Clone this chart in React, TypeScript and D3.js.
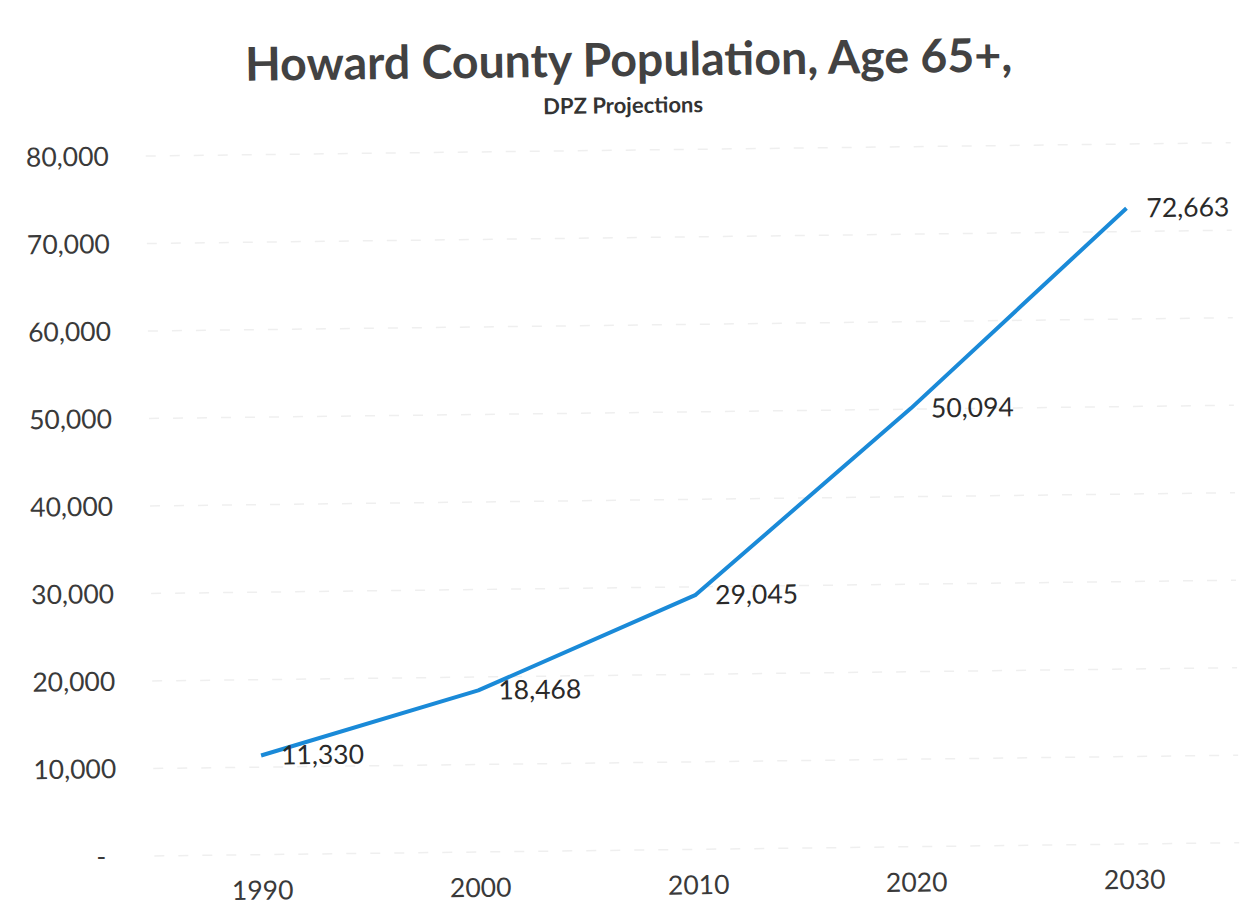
import React from "react";
import * as d3 from "d3";

const years = ["1990", "2000", "2010", "2020", "2030"];
const population = [11330, 18468, 29045, 50094, 72663];
const yTicks = [0, 10000, 20000, 30000, 40000, 50000, 60000, 70000, 80000];
const titleText = "Howard County Population, Age 65+,";
const subtitleText = "DPZ Projections";

const W = 1257;
const H = 920;

export default function App() {
  const x = d3.scalePoint<string>().domain(years).range([258, 1130]);
  const y = d3.scaleLinear().domain([0, 80000]).range([850, 150]);
  const fmt = d3.format(",");
  const line = d3
    .line<number>()
    .x((_, i) => x(years[i]) as number)
    .y((d) => y(d));

  const font = "Lato, 'Open Sans', sans-serif";
  const textColor = "#3a3a3a";

  return (
    <svg
      width={W}
      height={H}
      style={{ position: "absolute", left: 0, top: 0, background: "#fff" }}
    >
      <rect x={0} y={0} width={W} height={H} fill="#fff" />
      <g transform="rotate(-0.7, 640, 500)">
        <text
          x={634}
          y={76}
          textAnchor="middle"
          fontFamily={font}
          fontWeight={700}
          fontSize={46.5}
          fill="#424242"
        >
          {titleText}
        </text>
        <text
          x={628}
          y={113}
          textAnchor="middle"
          fontFamily={font}
          fontWeight={700}
          fontSize={22}
          fill="#333"
        >
          {subtitleText}
        </text>

        {yTicks.map((t) => (
          <g key={t}>
            <line
              x1={150}
              x2={1235}
              y1={y(t)}
              y2={y(t)}
              stroke="#efefef"
              strokeWidth={1.5}
              strokeDasharray="10 14"
            />
            <text
              x={t === 0 ? 102 : 113}
              y={y(t)}
              dy="0.35em"
              textAnchor="end"
              fontFamily={font}
              fontSize={26.5}
              fill={textColor}
            >
              {t === 0 ? "-" : fmt(t)}
            </text>
          </g>
        ))}

        {years.map((yr) => (
          <text
            key={yr}
            x={x(yr) as number}
            y={895}
            textAnchor="middle"
            fontFamily={font}
            fontSize={26.5}
            fill={textColor}
          >
            {yr}
          </text>
        ))}

        <path
          d={line(population) || ""}
          fill="none"
          stroke="#1a8ad8"
          strokeWidth={4}
          strokeLinejoin="round"
        />

        {population.map((v, i) => (
          <text
            key={i}
            x={(x(years[i]) as number) + 20}
            y={y(v)}
            dy="0.35em"
            textAnchor="start"
            fontFamily={font}
            fontSize={26.5}
            fill="#2a2a2a"
          >
            {fmt(v)}
          </text>
        ))}
      </g>
    </svg>
  );
}
